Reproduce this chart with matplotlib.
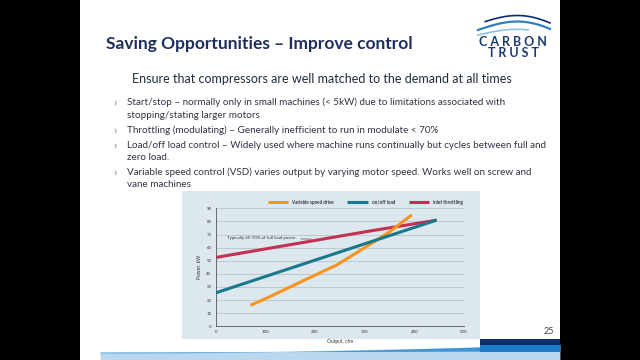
import numpy as np
import matplotlib
matplotlib.use("Agg")
import matplotlib.pyplot as plt
from matplotlib.patches import Rectangle

# chart data
vsd_x = [70, 100, 150, 200, 245, 300, 350, 395]
vsd_y = [16, 21, 30, 39, 47, 60, 72, 85]
onoff_x = [0, 445]
onoff_y = [25.5, 81]
inlet_x = [0, 100, 200, 300, 445]
inlet_y = [52.5, 59, 65.5, 72, 81]
series_labels = ["Variable speed drive", "on/off load", "inlet throttling"]
x_ticks = [0, 100, 200, 300, 400, 500]
y_ticks = [0, 10, 20, 30, 40, 50, 60, 70, 80, 90]

title = "Saving Opportunities \u2013 Improve control"
subtitle = "Ensure that compressors are well matched to the demand at all times"
bullets = [
    ["Start/stop \u2013 normally only in small machines (< 5kW) due to limitations associated with",
     "stopping/stating larger motors"],
    ["Throttling (modulating) \u2013 Generally inefficient to run in modulate < 70%"],
    ["Load/off load control \u2013 Widely used where machine runs continually but cycles between full and",
     "zero load."],
    ["Variable speed control (VSD) varies output by varying motor speed. Works well on screw and",
     "vane machines"],
]

W, H = 640, 360
plt.rcParams["font.family"] = ["Lato", "DejaVu Sans"]
fig = plt.figure(figsize=(6.4, 3.6), dpi=100)
fig.patch.set_facecolor("black")


def fx(x):
    return x / W


def fy(y):
    return 1 - y / H


# slide background
bg = fig.add_axes([0, 0, 1, 1])
bg.set_xlim(0, W)
bg.set_ylim(H, 0)
bg.axis("off")
bg.add_patch(Rectangle((80, 0), 480, 360, facecolor="white", edgecolor="none"))

# bottom swoosh
xs = np.linspace(100, 560, 200)
t = (xs - 100) / 460
bg.fill_between(xs, 353 - 8 * t ** 1.5, 360, color="#a9cdea", lw=0, alpha=0.8)
bg.fill_between(xs, 353 - 9 * t ** 2, 352 - 1 * t, color="#2f8fd3", lw=0, alpha=0.9)
bg.add_patch(Rectangle((480, 339), 80, 6, facecolor="#0d2d6b", edgecolor="none"))
bg.add_patch(Rectangle((480, 345), 80, 7, facecolor="#1f7cc8", edgecolor="none"))

# logo arcs
lx = np.linspace(478, 550, 100)
u = (lx - 478) / 72
bg.plot(lx, 30 - 12 * np.sin(np.pi * u * 0.8) + 6 * u, color="#2f7fc1", lw=1.6)
bg.plot(lx[10:], (24 - 12 * np.sin(np.pi * u * 0.8) + 6 * u)[10:], color="#0d2d6b", lw=1.2)
bg.plot(lx[:70], (35 - 8 * np.sin(np.pi * u * 0.8) + 4 * u)[:70], color="#8ec1e6", lw=1.2)
fig.text(fx(513), fy(42), "C A R B O N", ha="center", va="center",
         fontsize=9, color="#1b3a73", fontweight="bold")
fig.text(fx(513), fy(53), "T R U S T", ha="center", va="center",
         fontsize=9, color="#1b3a73", fontweight="bold")

# slide text
fig.text(fx(106), fy(44), title, ha="left", va="center", fontsize=12.5,
         fontweight="bold", color="#1f2f5c")
fig.text(fx(322), fy(79), subtitle, ha="center", va="center", fontsize=9,
         color="#1f2d3d")
rows = [102, 130, 145, 172]
for row, lines in zip(rows, bullets):
    fig.text(fx(113), fy(row), "\u203a", ha="left", va="center", fontsize=8.5,
             color="#7f7f7f")
    for k, line in enumerate(lines):
        fig.text(fx(127), fy(row + 13 * k), line, ha="left", va="center",
                 fontsize=7.1, color="#333344")
fig.text(fx(549), fy(331), "25", ha="center", va="center", fontsize=6.5,
         color="#404040")

# chart panel
bg.add_patch(Rectangle((182, 191), 298, 148, facecolor="#dde7ee", edgecolor="none"))

ax = fig.add_axes([fx(215.7), fy(326.3), fx(464) - fx(215.7), fy(208.3) - fy(326.3)])
ax.set_facecolor("#dde7ee")
ax.plot(vsd_x, vsd_y, color="#f7941d", lw=2.2, solid_capstyle="butt", label=series_labels[0], zorder=3)
ax.plot(onoff_x, onoff_y, color="#17798b", lw=2.2, solid_capstyle="butt", label=series_labels[1], zorder=3)
ax.plot(inlet_x, inlet_y, color="#c42f52", lw=2.2, solid_capstyle="butt", label=series_labels[2], zorder=2)
ax.set_xlim(0, 500)
ax.set_ylim(0, 90)
ax.set_xticks(x_ticks)
ax.set_yticks(y_ticks)
ax.tick_params(labelsize=3.2, length=0, pad=3, colors="#333333")
ax.grid(axis="y", color="#b8c3ca", lw=0.6)
ax.set_axisbelow(True)
for s in ["top", "right"]:
    ax.spines[s].set_visible(False)
for s in ["left", "bottom"]:
    ax.spines[s].set_color("#555555")
    ax.spines[s].set_linewidth(0.6)
ax.set_xlabel("Output, cfm", fontsize=3.5, labelpad=3, color="#333333")
ax.set_ylabel("Power, kW", fontsize=3.5, labelpad=4, color="#333333")
ax.annotate("Typically 65-70% of full load power", xy=(198, 66.5), xytext=(22, 67),
            fontsize=3.2, va="center", ha="left", color="#333333",
            arrowprops=dict(arrowstyle="-", color="#555555", lw=0.5))
ax.legend(loc="lower right", bbox_to_anchor=(1.01, 1.0), ncol=3, frameon=False,
          fontsize=3.3, handlelength=4.5, columnspacing=3, borderaxespad=0.4)

fig.savefig("out.png", dpi=100, facecolor="black")
